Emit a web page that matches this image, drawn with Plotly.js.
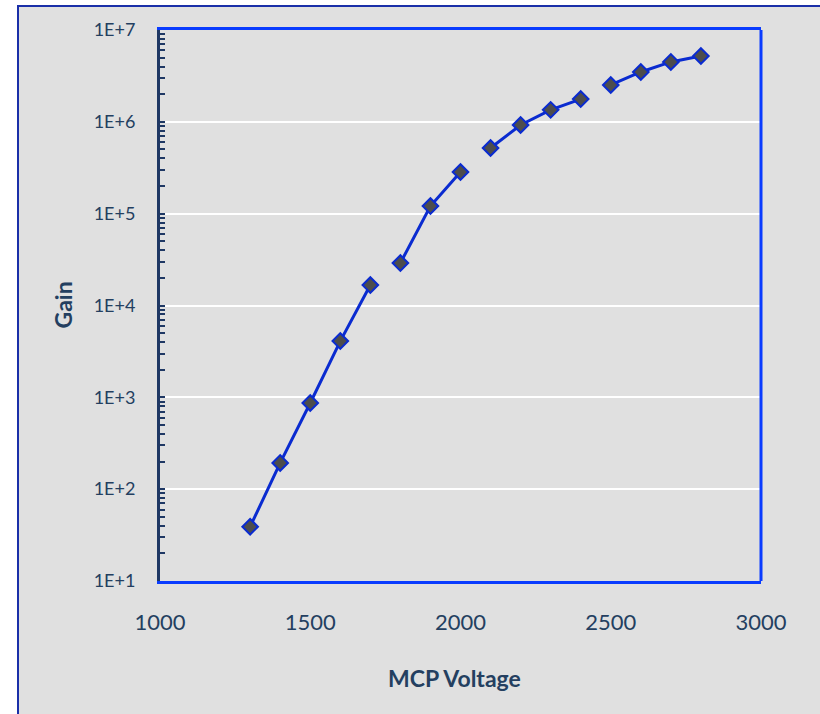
<!DOCTYPE html>
<html>
<head>
<meta charset="utf-8">
<script src="https://cdn.plot.ly/plotly-3.0.1.min.js"></script>
<style>
  html, body { margin: 0; padding: 0; background: #ffffff; width: 820px; height: 714px; overflow: hidden; }
  #frame { position: absolute; left: 17px; top: 5px; width: 801px; height: 707px;
           border-left: 2px solid #1a2fa8; border-top: 2px solid #1a2fa8; background: #e0e0e0; }
  #chart { width: 801px; height: 707px; }
</style>
</head>
<body>
<div id="frame"><div id="chart"></div></div>
<script>
// Data
const voltage = [1300, 1400, 1500, 1600, 1700, 1800, 1900, 2000, 2100, 2200, 2300, 2400, 2500, 2600, 2700, 2800];
const gain = [39, 193, 867, 4100, 16700, 29000, 121000, 284000, 519000, 925000, 1350000, 1770000, 2520000, 3490000, 4490000, 5210000];
// The line is broken into separate runs (gaps after these indices)
const segmentStarts = [0, 5, 8, 12];
const yTickVals = [10, 100, 1000, 10000, 100000, 1000000, 10000000];
const yTickText = ["1E+1", "1E+2", "1E+3", "1E+4", "1E+5", "1E+6", "1E+7"];
const xTickVals = [1000, 1500, 2000, 2500, 3000];
const xTitle = "MCP Voltage";
const yTitle = "Gain";

const lineBlue = "#0a2bd0";
const borderBlue = "#0a3cff";
const navy = "#1f3864";
const textColor = "#243f60";
const font = "Lato, 'Open Sans', sans-serif";

const traces = [];
for (let s = 0; s < segmentStarts.length; s++) {
  const a = segmentStarts[s];
  const b = s + 1 < segmentStarts.length ? segmentStarts[s + 1] : voltage.length;
  traces.push({
    x: voltage.slice(a, b),
    y: gain.slice(a, b),
    type: "scatter",
    mode: "lines+markers",
    line: { color: lineBlue, width: 3 },
    marker: { symbol: "diamond", size: 12, color: "#4d4d4d", line: { color: lineBlue, width: 2 } },
    showlegend: false,
    hoverinfo: "x+y"
  });
}

const layout = {
  width: 801, height: 707,
  paper_bgcolor: "#e0e0e0",
  plot_bgcolor: "#e0e0e0",
  margin: { l: 141, r: 59, t: 23, b: 133, pad: 0 },
  showlegend: false,
  xaxis: {
    type: "linear",
    range: [1000, 3000],
    tickmode: "array",
    tickvals: xTickVals,
    ticks: "",
    showgrid: false,
    zeroline: false,
    showline: true,
    linecolor: borderBlue,
    linewidth: 3,
    mirror: true,
    ticklabelstandoff: 20,
    tickfont: { family: font, size: 22, color: textColor }
  },
  yaxis: {
    type: "log",
    range: [1, 7],
    tickmode: "array",
    tickvals: yTickVals,
    ticktext: yTickText,
    ticks: "inside",
    ticklen: 5,
    tickwidth: 2,
    tickcolor: navy,
    minor: { ticks: "inside", ticklen: 5, tickwidth: 2, tickcolor: navy, dtick: "D1", showgrid: false },
    showgrid: true,
    gridcolor: "#ffffff",
    gridwidth: 2,
    zeroline: false,
    showline: true,
    linecolor: navy,
    linewidth: 3,
    ticklabelstandoff: 18,
    tickfont: { family: font, size: 18, color: textColor }
  },
  shapes: [
    { type: "line", xref: "paper", yref: "paper", x0: 1, x1: 1, y0: 0, y1: 1,
      line: { color: borderBlue, width: 3 }, layer: "above" }
  ],
  annotations: [
    { text: xTitle, xref: "paper", yref: "paper", x: 0.49, y: 0, yshift: -97,
      xanchor: "center", yanchor: "middle", showarrow: false,
      font: { family: font, size: 23, color: textColor, weight: "bold" } },
    { text: yTitle, xref: "paper", yref: "paper", x: 0, y: 0.5, xshift: -98,
      xanchor: "center", yanchor: "middle", textangle: -90, showarrow: false,
      font: { family: font, size: 23, color: textColor, weight: "bold" } }
  ]
};

Plotly.newPlot("chart", traces, layout, { displayModeBar: false, staticPlot: true });
</script>
</body>
</html>
